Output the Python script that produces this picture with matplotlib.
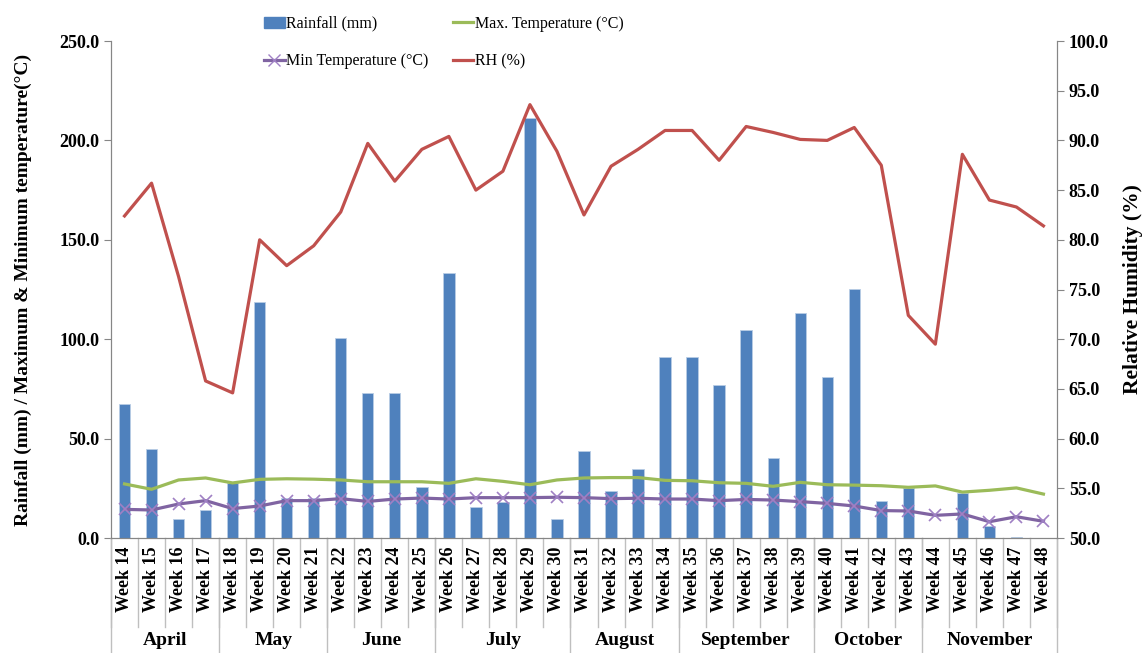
# Weekly rainfall, temperature and relative humidity (April - November)

import numpy as np
import matplotlib.pyplot as plt
from matplotlib.lines import Line2D
from matplotlib.patches import Patch
import matplotlib.transforms as mtransforms

plt.rcParams['font.family'] = ['Liberation Serif', 'DejaVu Serif']

weeks = ['Week %d' % w for w in range(14, 49)]
months = ['April', 'May', 'June', 'July', 'August', 'September', 'October', 'November']
weeks_per_month = [4, 4, 4, 5, 4, 5, 4, 5]

rainfall = [67.4, 44.8, 9.6, 14.1, 27.7, 118.7, 20.1, 20.0, 100.5, 72.8, 73.1, 25.5,
            133.3, 15.4, 18.3, 211.3, 9.7, 43.9, 23.8, 34.9, 91.0, 91.0, 77.1, 104.5,
            40.1, 113.0, 81.0, 125.5, 18.6, 25.3, 0.0, 22.8, 6.2, 0.5, 0.0]
max_temp = [27.2, 24.5, 29.2, 30.2, 27.7, 29.5, 29.8, 29.6, 29.2, 28.3, 28.3, 28.3,
            27.5, 29.8, 28.5, 26.8, 29.2, 30.2, 30.4, 30.4, 29.0, 28.8, 27.8, 27.5,
            26.0, 28.0, 26.8, 26.6, 26.3, 25.5, 26.2, 23.1, 24.0, 25.2, 22.1]
min_temp = [14.4, 14.1, 17.1, 18.8, 14.8, 16.1, 18.8, 18.8, 19.8, 18.4, 19.6, 20.1,
            19.6, 20.3, 20.3, 20.3, 20.5, 20.3, 19.8, 20.0, 19.6, 19.6, 18.8, 19.4,
            19.1, 18.3, 17.4, 16.1, 13.8, 13.6, 11.4, 12.1, 8.2, 10.7, 8.4]
rh = [82.4, 85.7, 76.3, 65.8, 64.6, 80.0, 77.4, 79.4, 82.8, 89.7, 85.9, 89.1,
      90.4, 85.0, 86.9, 93.6, 88.9, 82.5, 87.4, 89.1, 91.0, 91.0, 88.0, 91.4,
      90.8, 90.1, 90.0, 91.3, 87.5, 72.4, 69.5, 88.6, 84.0, 83.3, 81.4]

c_bar = '#4F81BD'
c_max = '#9BBB59'
c_min = '#8064A2'
c_rh = '#C0504D'
c_axis = '#868686'

x = np.arange(len(weeks))

fig = plt.figure(figsize=(11.48, 6.53), dpi=100)
ax = fig.add_axes([0.0967, 0.1761, 0.824, 0.7611])
ax2 = ax.twinx()

ax.bar(x, rainfall, width=0.42, color=c_bar, edgecolor='#B9CDE5', linewidth=0.6, zorder=2)
ax.plot(x, max_temp, color=c_max, lw=2.3, zorder=3)
ax.plot(x, min_temp, color=c_min, lw=2.3, marker='x', markersize=9,
        markeredgewidth=1.2, markeredgecolor='#9F80C4', zorder=4)
ax2.plot(x, rh, color=c_rh, lw=2.3, zorder=3)

ax.set_xlim(-0.5, len(weeks) - 0.5)
ax.set_ylim(0, 250)
ax.set_yticks(np.arange(0, 251, 50))
ax.set_yticklabels(['%.1f' % v for v in np.arange(0, 251, 50)])
ax2.set_ylim(50, 100)
ax2.set_yticks(np.arange(50, 101, 5))
ax2.set_yticklabels(['%.1f' % v for v in np.arange(50, 101, 5)])

for a in (ax, ax2):
    a.spines['top'].set_visible(False)
    for s in ('left', 'right', 'bottom'):
        a.spines[s].set_color(c_axis)
    a.tick_params(axis='y', colors=c_axis, length=5, labelsize=13, labelcolor='black')
    for t in a.get_yticklabels():
        t.set_fontweight('bold')

ax.set_xticks(x)
ax.set_xticklabels(weeks, rotation=90, fontsize=13, fontweight='bold', va='top')
ax.tick_params(axis='x', length=0, pad=6)

ax.set_ylabel('Rainfall (mm) / Maximum & Minimum temperature(°C)',
              fontsize=14, fontweight='bold')
ax.yaxis.set_label_coords(-0.084, 0.5)
ax2.set_ylabel('Relative Humidity (%)', fontsize=15.5, fontweight='bold')
ax2.yaxis.set_label_coords(1.07, 0.5)

# category separators below the axis
trans = mtransforms.blended_transform_factory(ax.transData, ax.transAxes)
for b in np.arange(len(weeks) + 1) - 0.5:
    ax.plot([b, b], [0, -0.179], transform=trans, color='#BFBFBF', lw=1, clip_on=False)
start = 0
edges = [-0.5]
for m, n in zip(months, weeks_per_month):
    ax.text(start + (n - 1) / 2, -0.207, m, transform=trans, ha='center', va='center',
            fontsize=14, fontweight='bold')
    start += n
    edges.append(start - 0.5)
for b in edges:
    ax.plot([b, b], [0, -0.232], transform=trans, color='#BFBFBF', lw=1, clip_on=False)

handles = [Patch(facecolor=c_bar, edgecolor=c_bar),
           Line2D([], [], color=c_min, lw=2.3, marker='x', markersize=9, markeredgecolor='#9F80C4'),
           Line2D([], [], color=c_max, lw=2.3),
           Line2D([], [], color=c_rh, lw=2.3)]
labels = ['Rainfall (mm)', 'Min Temperature (°C)', 'Max. Temperature (°C)', 'RH (%)']
fig.legend(handles, labels, ncol=2, loc='upper left', bbox_to_anchor=(0.223, 0.988),
           frameon=False, fontsize=11.5, handlelength=1.3, handletextpad=0.1,
           columnspacing=1.5, labelspacing=1.35, borderpad=0)

fig.savefig('out.png', dpi=100)
